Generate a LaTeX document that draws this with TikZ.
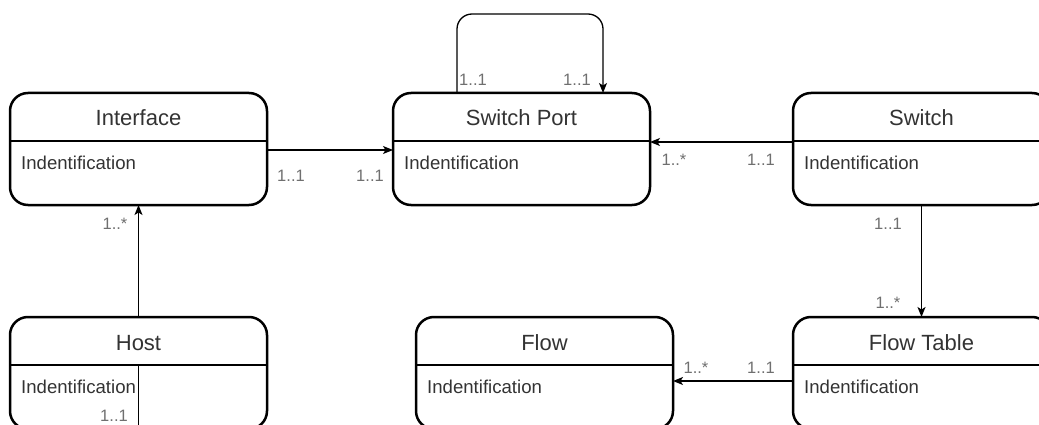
\documentclass[tikz,border=0pt]{standalone}
\usepackage{fontspec}
\setmainfont{Liberation Sans}
\usetikzlibrary{arrows.meta,calc,backgrounds}
\definecolor{titlecol}{HTML}{333333}
\definecolor{labcol}{HTML}{6F6F6F}
\tikzset{
 umlbox/.style={draw=black, line width=2.5pt, rounded corners=18pt, minimum width=257pt, minimum height=112pt, inner sep=0pt, outer sep=0pt},
 headline/.style={draw=black, line width=2.5pt},
 headfill/.style={fill=white, rounded corners=18pt},
 titletext/.style={font=\fontsize{22}{26}\selectfont, text=titlecol, anchor=base, inner sep=0pt},
 bodytext/.style={font=\fontsize{18.6}{22}\selectfont, text=titlecol, anchor=base west, inner sep=0pt},
 mult/.style={font=\fontsize{16.5}{19}\selectfont, text=labcol, anchor=base, inner sep=0pt},
 assoc/.style={draw=black, line width=1.3pt, -{Stealth[length=10pt,width=8pt,inset=2.5pt]}},
}
\newcommand\umlclass[4]{%
  \fill[headfill] (#2,#3) rectangle ++(257,48);
  \node[umlbox, anchor=north west] (#1) at (#2,#3) {};
  \draw[headline] ($(#1.north west)+(0,48)$) -- ($(#1.north east)+(0,48)$);
  \node[titletext] (#1-title) at ($(#1.north)+(0,33)$) {#4};
  \node[bodytext] (#1-attr) at ($(#1.north west)+(11,76)$) {Indentification};
}
\begin{document}
\begin{tikzpicture}[x=1pt,y=-1pt]
\useasboundingbox (0,0) rectangle (1039,425);
\clip (0,0) rectangle (1039,425);
\umlclass{iface}{10}{93}{Interface}
\umlclass{sport}{393}{93}{Switch Port}
\umlclass{switch}{793}{93}{Switch}
\umlclass{host}{10}{317}{Host}
\umlclass{flow}{416}{317}{Flow}
\umlclass{ftable}{793}{317}{Flow Table}
\begin{scope}[on background layer]
\clip (0,0) rectangle (1039,425);
\draw[assoc] ($(iface.north east)+(0,57)$) -- ($(sport.north west)+(0,57)$);
\draw[assoc] ($(switch.north west)+(0,49)$) -- ($(sport.north east)+(0,49)$);
\draw[assoc, rounded corners=15pt] ($(sport.north west)+(64,0)$) -- ++(0,-79) -| ($(sport.north west)+(210,0)$);
\draw[assoc] (host.south) -- (iface.south);
\draw[assoc] (switch.south) -- (ftable.north);
\draw[assoc] ($(ftable.north west)+(0,64)$) -- ($(flow.north east)+(0,64)$);
\end{scope}
\node[mult] (m1) at (291,182) {1..1};
\node[mult] (m2) at (370,182) {1..1};
\node[mult] (m3) at (115,229) {1..*};
\node[mult] (m4) at (114,421) {1..1};
\node[mult] (m5) at (473,86) {1..1};
\node[mult] (m6) at (577,86) {1..1};
\node[mult] (m7) at (674,165) {1..*};
\node[mult] (m8) at (761,165) {1..1};
\node[mult] (m9) at (888,229) {1..1};
\node[mult] (m10) at (888,308) {1..*};
\node[mult] (m11) at (696,373) {1..*};
\node[mult] (m12) at (761,373) {1..1};
\end{tikzpicture}
\end{document}
